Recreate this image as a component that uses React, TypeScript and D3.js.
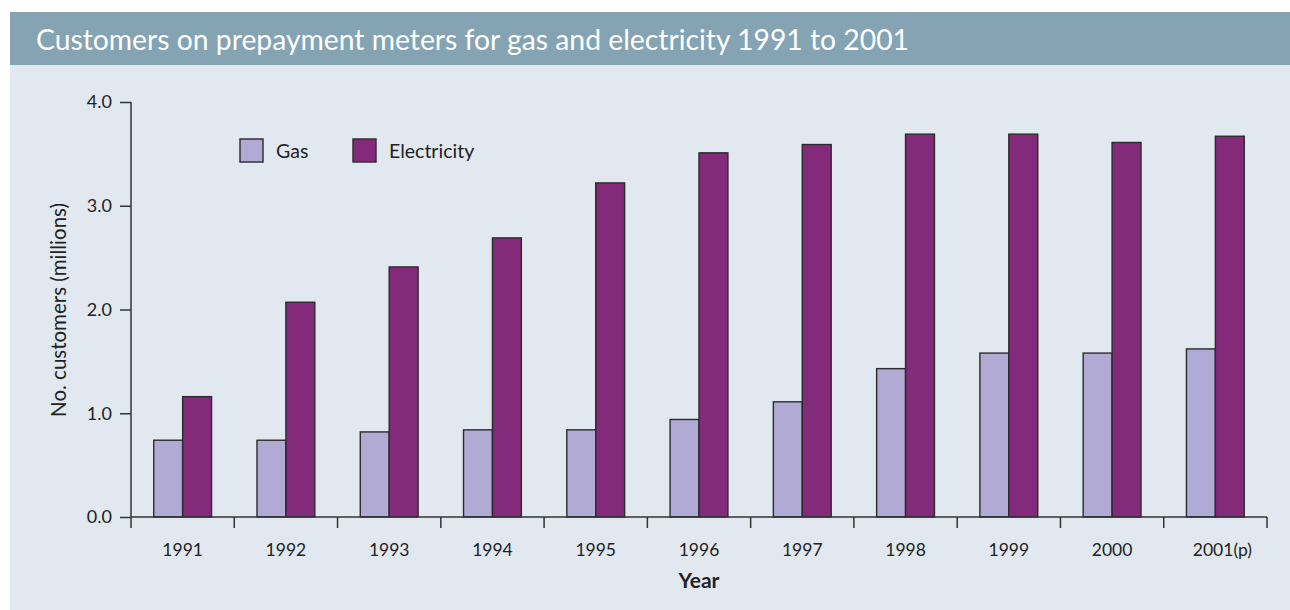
import React, { useEffect, useRef } from "react";
import * as d3 from "d3";

const years = ["1991", "1992", "1993", "1994", "1995", "1996", "1997", "1998", "1999", "2000", "2001(p)"];
const gas = [0.74, 0.74, 0.82, 0.84, 0.84, 0.94, 1.11, 1.43, 1.58, 1.58, 1.62];
const electricity = [1.16, 2.07, 2.41, 2.69, 3.22, 3.51, 3.59, 3.69, 3.69, 3.61, 3.67];
const seriesNames = ["Gas", "Electricity"];
const yTicks = [0, 1, 2, 3, 4];

const title = "Customers on prepayment meters for gas and electricity 1991 to 2001";
const yLabel = "No. customers (millions)";
const xLabel = "Year";

function App() {
  const ref = useRef<SVGSVGElement>(null);

  useEffect(() => {
    const width = 1290;
    const height = 610;
    const margin = { top: 102, left: 131, bottom: 93, right: 23 };
    const font = "Lato, 'Open Sans', sans-serif";
    const colors = ["#b0aad4", "#832a7a"];

    const svg = d3.select(ref.current);
    svg.selectAll("*").remove();
    svg.attr("width", width).attr("height", height);

    // panels
    svg.append("rect").attr("x", 10).attr("y", 12).attr("width", width - 10).attr("height", 53).attr("fill", "#84a3b3");
    svg.append("rect").attr("x", 10).attr("y", 65).attr("width", width - 10).attr("height", height - 65).attr("fill", "#e1e8ef");

    svg.append("text")
      .attr("x", 36).attr("y", 50)
      .attr("fill", "#fff")
      .style("font-family", font)
      .style("font-size", "28.3px")
      .text(title);

    const data = years.map((y, i) => ({ year: y, values: [gas[i], electricity[i]] }));

    const x0 = d3.scaleBand()
      .domain(years)
      .range([margin.left, width - margin.right])
      .paddingInner(0.44)
      .paddingOuter(0.22);

    const x1 = d3.scaleBand()
      .domain(seriesNames)
      .range([0, x0.bandwidth()]);

    const y = d3.scaleLinear()
      .domain([0, 4])
      .range([height - margin.bottom, margin.top]);

    const step = x0.step();
    const y0 = y(0);

    // bars
    const groups = svg.append("g")
      .selectAll("g")
      .data(data)
      .enter()
      .append("g")
      .attr("transform", d => `translate(${x0(d.year)},0)`);

    groups.selectAll("rect")
      .data(d => d.values.map((v, i) => ({ key: seriesNames[i], value: v, i })))
      .enter()
      .append("rect")
      .attr("x", d => x1(d.key) as number)
      .attr("y", d => y(d.value))
      .attr("width", x1.bandwidth())
      .attr("height", d => y0 - y(d.value))
      .attr("fill", d => colors[d.i])
      .attr("stroke", "#2b2b2b")
      .attr("stroke-width", 1.4);

    // y axis
    const yAxis = svg.append("g")
      .attr("transform", `translate(${margin.left},0)`)
      .call(d3.axisLeft(y).tickValues(yTicks).tickFormat(d3.format(".1f")).tickSize(11).tickPadding(8));
    yAxis.select(".domain").remove();
    yAxis.selectAll("line").attr("stroke", "#333").attr("stroke-width", 1.5);
    yAxis.selectAll("text").style("font-family", font).style("font-size", "18px").attr("fill", "#222");
    svg.append("line")
      .attr("x1", margin.left).attr("x2", margin.left)
      .attr("y1", y(4)).attr("y2", y0 + 11)
      .attr("stroke", "#333").attr("stroke-width", 1.5);

    // x axis
    svg.append("line")
      .attr("x1", margin.left).attr("x2", width - margin.right)
      .attr("y1", y0).attr("y2", y0)
      .attr("stroke", "#333").attr("stroke-width", 1.5);
    const boundaries = d3.range(years.length + 1).map(i => margin.left + i * step);
    svg.append("g")
      .selectAll("line")
      .data(boundaries.slice(1))
      .enter()
      .append("line")
      .attr("x1", d => d).attr("x2", d => d)
      .attr("y1", y0).attr("y2", y0 + 11)
      .attr("stroke", "#333").attr("stroke-width", 1.5);

    svg.append("g")
      .selectAll("text")
      .data(years)
      .enter()
      .append("text")
      .attr("x", d => (x0(d) as number) + x0.bandwidth() / 2 + (d.length > 4 ? 7 : 0))
      .attr("y", 556)
      .attr("text-anchor", "middle")
      .attr("fill", "#222")
      .style("font-family", font)
      .style("font-size", "17.5px")
      .text(d => d);

    svg.append("text")
      .attr("x", (margin.left + width - margin.right) / 2)
      .attr("y", 588)
      .attr("text-anchor", "middle")
      .attr("fill", "#222")
      .style("font-family", font)
      .style("font-size", "21px")
      .style("font-weight", "bold")
      .text(xLabel);

    svg.append("text")
      .attr("transform", `translate(66,310) rotate(-90)`)
      .attr("text-anchor", "middle")
      .attr("fill", "#222")
      .style("font-family", font)
      .style("font-size", "20.5px")
      .text(yLabel);

    // legend
    const legendX = [240, 353];
    const legend = svg.append("g")
      .selectAll("g")
      .data(seriesNames)
      .enter()
      .append("g")
      .attr("transform", (d, i) => `translate(${legendX[i]},139)`);
    legend.append("rect")
      .attr("width", 23).attr("height", 23)
      .attr("fill", (d, i) => colors[i])
      .attr("stroke", "#333").attr("stroke-width", 1.5);
    legend.append("text")
      .attr("x", 36).attr("y", 19)
      .attr("fill", "#222")
      .style("font-family", font)
      .style("font-size", "19.5px")
      .text(d => d);
  }, []);

  return (
    <div>
      <svg ref={ref} style={{ position: "absolute", left: 0, top: 0, display: "block" }}></svg>
    </div>
  );
}

export default App;
